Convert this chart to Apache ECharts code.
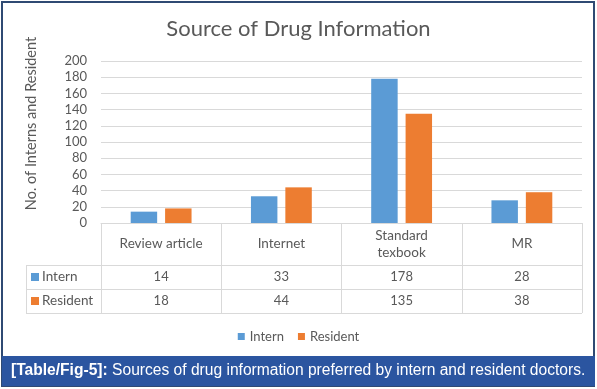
<!DOCTYPE html>
<html><head><meta charset="utf-8">
<script src="https://cdn.jsdelivr.net/npm/echarts@6/dist/echarts.min.js"></script>
<style>html,body{margin:0;padding:0;background:#fff}#c{width:597px;height:389px}</style>
</head><body><div id="c"></div>
<script>
const categories = ['Review article', 'Internet', 'Standard\ntexbook', 'MR'];
const intern = [14, 33, 178, 28];
const resident = [18, 44, 135, 38];
const seriesNames = ['Intern', 'Resident'];
const yTicks = [0, 20, 40, 60, 80, 100, 120, 140, 160, 180, 200];
const titleText = 'Source of Drug Information';
const yName = 'No. of Interns and Resident';
const captionBold = '[Table/Fig-5]:';
const captionText = ' Sources of drug information preferred by intern and resident doctors.';

const FONT = 'Lato';
const TXT = '#595959';
const GRID = '#d9d9d9';
const BLUE = '#5b9bd5';
const ORANGE = '#ed7d31';

const chart = echarts.init(document.getElementById('c'), null, {renderer: 'canvas'});
const gridLeft = 101, gridRight = 15, gridTop = 61, gridBottom = 166;
const rowH1 = 42, rowH2 = 24;

function valAxis(arr, margin) {
  return {
    type: 'category', data: categories, position: 'bottom', gridIndex: 0,
    axisLine: {show: false}, axisTick: {show: false},
    axisLabel: {interval: 0, margin: margin, verticalAlign: 'middle', color: TXT, fontFamily: FONT, fontSize: 13,
      formatter: (v, i) => String(arr[i])}
  };
}

const option = {
  backgroundColor: '#fff',
  animation: false,
  title: {text: titleText, left: 'center', top: 13,
    textStyle: {fontFamily: FONT, fontSize: 22, fontWeight: 'normal', color: TXT}},
  legend: {data: seriesNames, bottom: 41, left: 'center', icon: 'rect', itemWidth: 7, itemHeight: 7, itemGap: 14,
    textStyle: {fontFamily: FONT, fontSize: 13, color: TXT}},
  grid: {left: gridLeft, right: gridRight, top: gridTop, bottom: gridBottom, containLabel: false},
  xAxis: [
    {type: 'category', data: categories, position: 'bottom',
      axisLine: {show: true, lineStyle: {color: GRID, width: 1}},
      axisTick: {show: true, interval: 0, length: rowH1 + 2 * rowH2, lineStyle: {color: GRID}},
      axisLabel: {interval: 0, margin: 21, verticalAlign: 'middle', color: TXT, fontFamily: FONT, fontSize: 13.5, lineHeight: 17}},
    valAxis(intern, rowH1 + rowH2 / 2),
    valAxis(resident, rowH1 + rowH2 + rowH2 / 2)
  ],
  yAxis: {type: 'value', min: yTicks[0], max: yTicks[yTicks.length - 1], interval: yTicks[1] - yTicks[0],
    name: yName, nameLocation: 'middle', nameRotate: 90, nameGap: 62,
    nameTextStyle: {fontFamily: FONT, fontSize: 14.5, color: TXT, padding: [0, 0, 0, 37]},
    axisLine: {show: false}, axisTick: {show: false},
    axisLabel: {color: TXT, fontFamily: FONT, fontSize: 13, margin: 14},
    splitLine: {lineStyle: {color: GRID, width: 1}}},
  series: [
    {name: seriesNames[0], type: 'bar', data: intern, barWidth: '22%', barGap: '30%', itemStyle: {color: BLUE}},
    {name: seriesNames[1], type: 'bar', data: resident, barWidth: '22%', barGap: '30%', itemStyle: {color: ORANGE}}
  ]
};
chart.setOption(option);

// Table frame and row headers, positioned from the axis
const y0 = chart.convertToPixel({yAxisIndex: 0}, 0);
const xR = 597 - gridRight;
const xL = 26;
const r1 = y0 + rowH1, r2 = r1 + rowH2, r3 = r2 + rowH2;
const g = [];
[r1, r2, r3].forEach(y => g.push({type: 'line', shape: {x1: xL, y1: Math.round(y) + 0.5, x2: xR, y2: Math.round(y) + 0.5}, style: {stroke: GRID, lineWidth: 1}}));
g.push({type: 'line', shape: {x1: xL + 0.5, y1: Math.round(r1), x2: xL + 0.5, y2: Math.round(r3) + 1}, style: {stroke: GRID, lineWidth: 1}});
[[seriesNames[0], BLUE, r1], [seriesNames[1], ORANGE, r2]].forEach(([n, c, y]) => {
  g.push({type: 'rect', shape: {x: xL + 5, y: y + rowH2 / 2 - 4, width: 8, height: 8}, style: {fill: c}});
  g.push({type: 'text', x: xL + 16, y: y + rowH2 / 2, style: {text: n, fill: TXT, font: '13.5px ' + FONT, textVerticalAlign: 'middle', verticalAlign: 'middle'}});
});
// outer frame and caption bar
g.push({type: 'rect', shape: {x: 2, y: 2, width: 592, height: 384}, style: {fill: 'none', stroke: '#2f4a73', lineWidth: 2}, z: 10});
g.push({type: 'rect', shape: {x: 2, y: 356, width: 593, height: 30}, style: {fill: '#2b55a0'}, z: 11});
g.push({type: 'text', x: 11, y: 371, z: 12, style: {
  text: '{b|' + captionBold + '}{n|' + captionText + '}',
  rich: {b: {fontFamily: 'Liberation Sans', fontWeight: 'bold', fontSize: 15.6, fill: '#fff', color: '#fff'},
         n: {fontFamily: 'Liberation Sans', fontSize: 15.6, fill: '#fff', color: '#fff'}},
  verticalAlign: 'middle', textVerticalAlign: 'middle'}});
chart.setOption({graphic: g});
</script>
</body></html>
